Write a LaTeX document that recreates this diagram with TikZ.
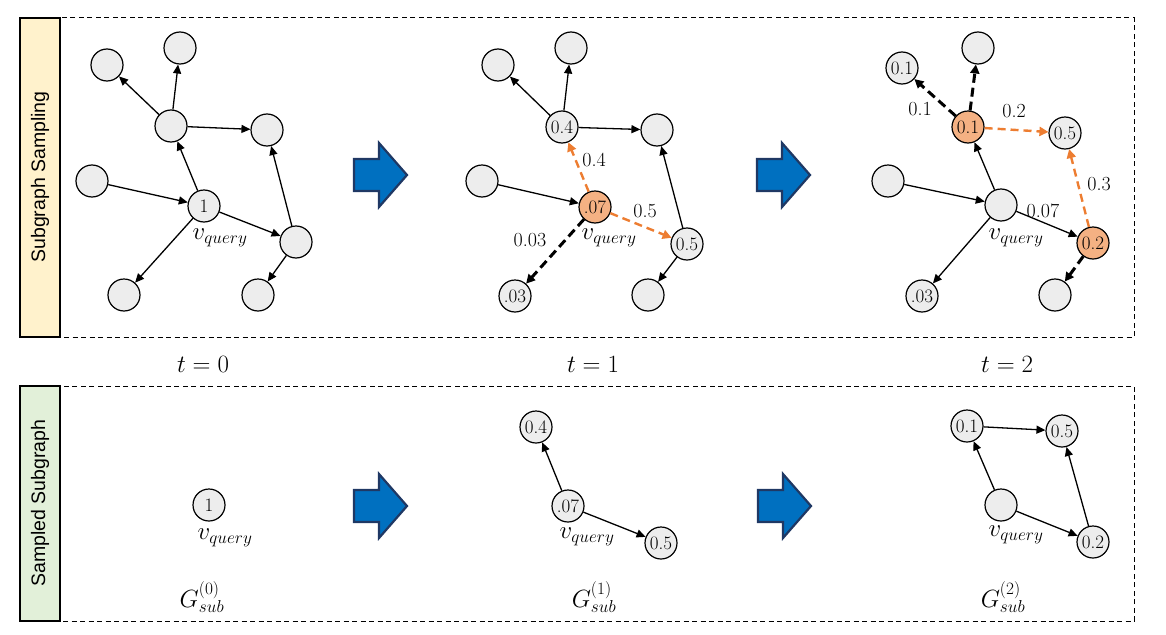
\documentclass[tikz,border=0pt]{standalone}
\usepackage{fontspec}
\newfontfamily\stripfont{Liberation Sans}
\usetikzlibrary{arrows.meta}
\definecolor{nodegray}{HTML}{EDEDED}
\definecolor{nodeorange}{HTML}{F4B183}
\definecolor{edgeorange}{HTML}{ED7D31}
\definecolor{stripyellow}{HTML}{FFF2CC}
\definecolor{stripgreen}{HTML}{E2F0D9}
\definecolor{arrowblue}{HTML}{0070C0}
\definecolor{arrowborder}{HTML}{1F3864}
\begin{document}
\begin{tikzpicture}[x=1pt,y=-1pt,
  vtx/.style={circle,draw=black,line width=1.2pt,fill=nodegray,minimum size=32pt,inner sep=0pt,font=\fontsize{19}{19}\selectfont},
  hot/.style={vtx,fill=nodeorange},
  edge/.style={line width=1.3pt,-{Triangle[length=9pt,width=8pt]}},
  walk/.style={line width=2.4pt,color=edgeorange,dash pattern=on 8pt off 5pt,-{Triangle[length=9pt,width=9pt]}},
  cand/.style={line width=3pt,color=black,dash pattern=on 9pt off 5pt,-{Triangle[length=9pt,width=9pt]}},
  wlabel/.style={inner sep=0pt,font=\fontsize{20}{20}\selectfont},
  qlabel/.style={inner sep=0pt,font=\fontsize{25}{25}\selectfont},
  tlabel/.style={inner sep=0pt,font=\fontsize{23}{23}\selectfont},
  panel/.style={draw=black,line width=1pt,dash pattern=on 5pt off 3.5pt},
  strip/.style={draw=black,line width=1.3pt},
  striptext/.style={rotate=90,inner sep=0pt,font=\stripfont\fontsize{19.5}{20}\selectfont},
  bigarrow/.style={draw=arrowborder,fill=arrowblue,line width=2.2pt,line join=miter}
]
\useasboundingbox (0,0) rectangle (1166,634);

% ---------- panels ----------
\draw[panel] (60,18) rectangle (1134,337);
\draw[strip,fill=stripyellow] (20,18) rectangle (60,337);
\node[striptext] (s1) at (40,177) {Subgraph Sampling};

\draw[panel] (60,386) rectangle (1134,621);
\draw[strip,fill=stripgreen] (20,386) rectangle (60,621);
\node[striptext] (s2) at (40,503) {Sampled Subgraph};

% ---------- big arrows ----------
\draw[bigarrow] (354,159) -- (379,159) -- (379,143) -- (407,175) -- (379,207) -- (379,191) -- (354,191) -- cycle;
\draw[bigarrow] (757,159) -- (782,159) -- (782,143) -- (810,175) -- (782,207) -- (782,191) -- (757,191) -- cycle;
\draw[bigarrow] (354,490) -- (379,490) -- (379,474) -- (407,506) -- (379,538) -- (379,522) -- (354,522) -- cycle;
\draw[bigarrow] (758,490) -- (783,490) -- (783,474) -- (811,506) -- (783,538) -- (783,522) -- (758,522) -- cycle;

% ---------- top panel 1 (t=0) ----------
\node[vtx] (a1) at (107,65) {};
\node[vtx] (b1) at (180,48) {};
\node[vtx] (c1) at (171,126) {};
\node[vtx] (d1) at (267,130) {};
\node[vtx] (e1) at (92,181) {};
\node[vtx] (q1) at (204,206) {1};
\node[vtx] (f1) at (296,242) {};
\node[vtx] (g1) at (124,295) {};
\node[vtx] (h1) at (258,295) {};
\node[qlabel] (vq1) at (220,238) {$v_{query}$};
\draw[edge] (c1) -- (a1);
\draw[edge] (c1) -- (b1);
\draw[edge] (c1) -- (d1);
\draw[edge] (q1) -- (c1);
\draw[edge] (e1) -- (q1);
\draw[edge] (q1) -- (f1);
\draw[edge] (f1) -- (d1);
\draw[edge] (q1) -- (g1);
\draw[edge] (f1) -- (h1);

% ---------- top panel 2 (t=1) ----------
\node[vtx] (a2) at (498,65) {};
\node[vtx] (b2) at (571,48) {};
\node[vtx] (c2) at (562,127) {0.4};
\node[vtx] (d2) at (657,130) {};
\node[vtx] (e2) at (482,181) {};
\node[hot] (q2) at (595,207) {.07};
\node[vtx] (f2) at (687,244) {0.5};
\node[vtx] (g2) at (515,296) {.03};
\node[vtx] (h2) at (648,295) {};
\node[qlabel] (vq2) at (609,238) {$v_{query}$};
\draw[edge] (c2) -- (a2);
\draw[edge] (c2) -- (b2);
\draw[edge] (c2) -- (d2);
\draw[walk] (q2) -- (c2);
\draw[edge] (e2) -- (q2);
\draw[walk] (q2) -- (f2);
\draw[edge] (f2) -- (d2);
\draw[cand] (q2) -- (g2);
\draw[edge] (f2) -- (h2);
\node[wlabel] (w21) at (594,160) {0.4};
\node[wlabel] (w22) at (645,211) {0.5};
\node[wlabel] (w23) at (530,240) {0.03};

% ---------- top panel 3 (t=2) ----------
\node[vtx] (a3) at (902,68) {0.1};
\node[vtx] (b3) at (978,48) {};
\node[hot] (c3) at (968,127) {0.1};
\node[vtx] (d3) at (1065,133) {0.5};
\node[vtx] (e3) at (888,181) {};
\node[vtx] (q3) at (1001,205) {};
\node[hot] (f3) at (1093,243) {0.2};
\node[vtx] (g3) at (922,296) {.03};
\node[vtx] (h3) at (1055,295) {};
\node[qlabel] (vq3) at (1016,238) {$v_{query}$};
\draw[cand] (c3) -- (a3);
\draw[cand] (c3) -- (b3);
\draw[walk] (c3) -- (d3);
\draw[edge] (q3) -- (c3);
\draw[edge] (e3) -- (q3);
\draw[edge] (q3) -- (f3);
\draw[walk] (f3) -- (d3);
\draw[edge] (q3) -- (g3);
\draw[cand] (f3) -- (h3);
\node[wlabel] (w31) at (920,109) {0.1};
\node[wlabel] (w32) at (1014,111) {0.2};
\node[wlabel] (w33) at (1043,211) {0.07};
\node[wlabel] (w34) at (1099,184) {0.3};

% ---------- time labels ----------
\node[tlabel] (t0) at (203,364) {$t=0$};
\node[tlabel] (t1) at (593,364) {$t=1$};
\node[tlabel] (t2) at (1007,364) {$t=2$};

% ---------- bottom panel 1 ----------
\node[vtx] (bq1) at (209,505) {1};
\node[qlabel] (bvq1) at (225,538) {$v_{query}$};
\node[tlabel] (gs0) at (202,597) {$G_{sub}^{(0)}$};

% ---------- bottom panel 2 ----------
\node[vtx] (bc2) at (536,427) {0.4};
\node[vtx] (bq2) at (568,506) {.07};
\node[vtx] (bf2) at (661,543) {0.5};
\node[qlabel] (bvq2) at (587,537) {$v_{query}$};
\draw[edge] (bq2) -- (bc2);
\draw[edge] (bq2) -- (bf2);
\node[tlabel] (gs1) at (594,597) {$G_{sub}^{(1)}$};

% ---------- bottom panel 3 ----------
\node[vtx] (bc3) at (967,426) {0.1};
\node[vtx] (bd3) at (1062,431) {0.5};
\node[vtx] (bq3) at (1001,505) {};
\node[vtx] (bf3) at (1093,542) {0.2};
\node[qlabel] (bvq3) at (1016,535) {$v_{query}$};
\draw[edge] (bq3) -- (bc3);
\draw[edge] (bc3) -- (bd3);
\draw[edge] (bq3) -- (bf3);
\draw[edge] (bf3) -- (bd3);
\node[tlabel] (gs2) at (1003,597) {$G_{sub}^{(2)}$};
\end{tikzpicture}
\end{document}
